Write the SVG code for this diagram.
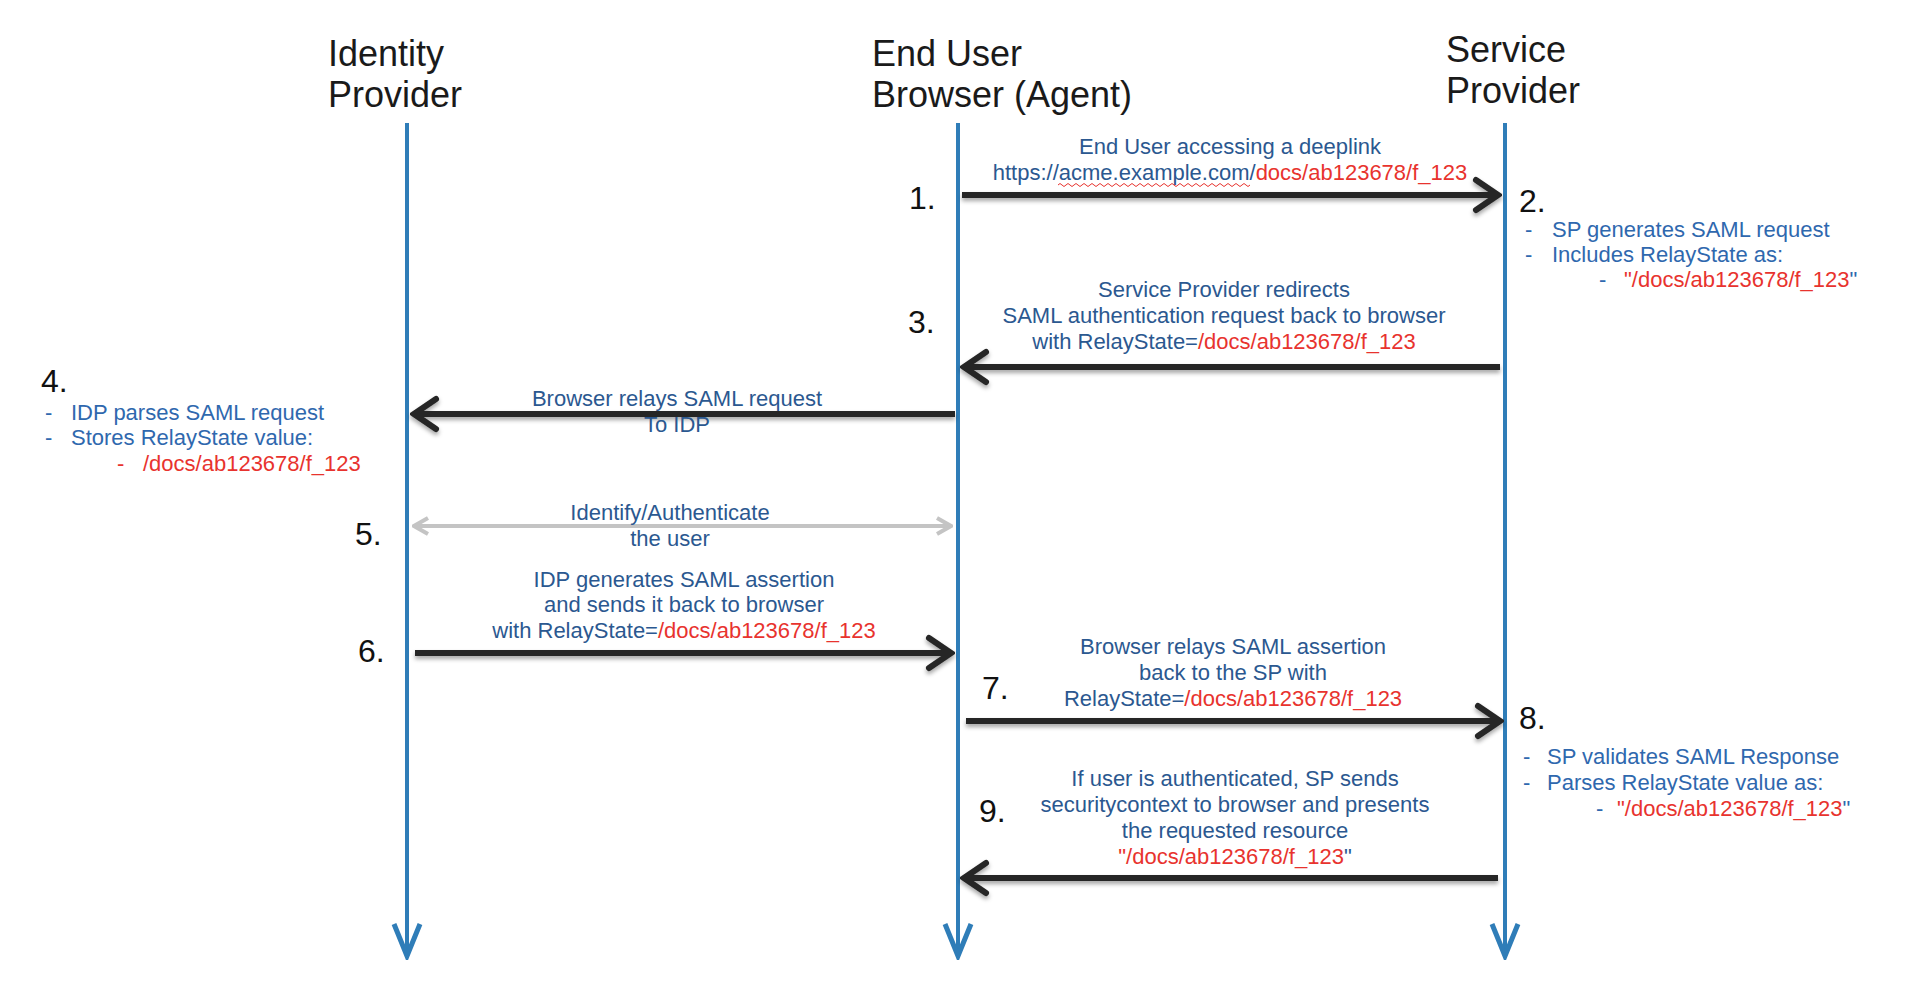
<svg xmlns="http://www.w3.org/2000/svg" width="1932" height="984" viewBox="0 0 1932 984">
<defs>
<style>
.hdr{font-family:"Liberation Sans",Arial,sans-serif;font-size:36px;fill:#1a1a1a}
.num{font-family:"Liberation Sans",Arial,sans-serif;font-size:32px;fill:#111}
.lbl{font-family:"Liberation Sans",Arial,sans-serif;font-size:22px;fill:#2B5890;text-anchor:middle}
.note{font-family:"Liberation Sans",Arial,sans-serif;font-size:22px;fill:#2F68AE}
.red{fill:#E8332E}
.life{stroke:#2F7DB8;stroke-width:4;fill:none}
.msg{stroke:#262626;stroke-width:6;fill:none}
.grey{stroke:#C4C4C4;stroke-width:4;fill:none}
</style>
<marker id="ah" markerUnits="userSpaceOnUse" viewBox="-30 -20 34 40" refX="0" refY="0" markerWidth="34" markerHeight="40" orient="auto">
<path d="M-22,-15 L0,0 L-22,15" fill="none" stroke="#262626" stroke-width="6" stroke-linecap="round"/>
</marker>
<marker id="lh" markerUnits="userSpaceOnUse" viewBox="-36 -20 40 40" refX="0" refY="0" markerWidth="40" markerHeight="40" orient="auto">
<path d="M-32,-13 L0,0 L-32,13" fill="none" stroke="#2F7DB8" stroke-width="5"/>
</marker>
<marker id="gh" markerUnits="userSpaceOnUse" viewBox="-20 -12 22 24" refX="0" refY="0" markerWidth="22" markerHeight="24" orient="auto-start-reverse">
<path d="M-14,-8 L0,0 L-14,8" fill="none" stroke="#C4C4C4" stroke-width="4"/>
</marker>
<filter id="sh" x="-5%" y="-100%" width="110%" height="300%">
<feDropShadow dx="0" dy="3" stdDeviation="2" flood-color="#000" flood-opacity="0.35"/>
</filter>
</defs>
<rect width="1932" height="984" fill="#fff"/>

<g id="idp">
<text class="hdr" x="328" y="66">Identity</text>
<text class="hdr" x="328" y="107">Provider</text>
<line class="life" x1="407" y1="123" x2="407" y2="956" marker-end="url(#lh)"/>
</g>
<g id="browser">
<text class="hdr" x="872" y="66">End User</text>
<text class="hdr" x="872" y="107">Browser (Agent)</text>
<line class="life" x1="958" y1="123" x2="958" y2="956" marker-end="url(#lh)"/>
</g>
<g id="sp">
<text class="hdr" x="1446" y="62">Service</text>
<text class="hdr" x="1446" y="103">Provider</text>
<line class="life" x1="1505" y1="123" x2="1505" y2="956" marker-end="url(#lh)"/>
</g>

<g id="connectors">
<g filter="url(#sh)">
<line class="msg" x1="962" y1="195" x2="1498" y2="195" marker-end="url(#ah)"/>
<line class="msg" x1="1500" y1="367" x2="964" y2="367" marker-end="url(#ah)"/>
<line class="msg" x1="955" y1="414" x2="414" y2="414" marker-end="url(#ah)"/>
<line class="msg" x1="415" y1="653" x2="951" y2="653" marker-end="url(#ah)"/>
<line class="msg" x1="966" y1="721" x2="1500" y2="721" marker-end="url(#ah)"/>
<line class="msg" x1="1498" y1="878" x2="964" y2="878" marker-end="url(#ah)"/>
</g>
<line class="grey" x1="414" y1="526" x2="951" y2="526" marker-start="url(#gh)" marker-end="url(#gh)"/>
</g>

<g id="step1">
<text class="num" x="909" y="209">1.</text>
<text class="lbl" x="1230" y="154">End User accessing a deeplink</text>
<text class="lbl" x="1230" y="180">https://acme.example.com/<tspan class="red">docs/ab123678/f_123</tspan></text>
<path d="M1058,185 q2,-3 4,0 t4,0 t4,0 t4,0 t4,0 t4,0 t4,0 t4,0 t4,0 t4,0 t4,0 t4,0 t4,0 t4,0 t4,0 t4,0 t4,0 t4,0 t4,0 t4,0 t4,0 t4,0 t4,0 t4,0 t4,0 t4,0 t4,0 t4,0 t4,0 t4,0 t4,0 t4,0 t4,0 t4,0 t4,0 t4,0 t4,0 t4,0 t4,0 t4,0 t4,0 t4,0 t4,0 t4,0 t4,0 t4,0 t4,0 t4,0" fill="none" stroke="#E8332E" stroke-width="1"/>
</g>
<g id="step2">
<text class="num" x="1519" y="212">2.</text>
<text class="note" x="1525" y="237">-</text>
<text class="note" x="1552" y="237">SP generates SAML request</text>
<text class="note" x="1525" y="262">-</text>
<text class="note" x="1552" y="262">Includes RelayState as:</text>
<text class="note" x="1599" y="287">-</text>
<text class="note" x="1624" y="287"><tspan class="red">"/docs/ab123678/f_123</tspan>"</text>
</g>
<g id="step3">
<text class="num" x="908" y="333">3.</text>
<text class="lbl" x="1224" y="297">Service Provider redirects</text>
<text class="lbl" x="1224" y="323">SAML authentication request back to browser</text>
<text class="lbl" x="1224" y="349">with RelayState=<tspan class="red">/docs/ab123678/f_123</tspan></text>
</g>
<g id="step4">
<text class="num" x="41" y="392">4.</text>
<text class="note" x="45" y="420">-</text>
<text class="note" x="71" y="420">IDP parses SAML request</text>
<text class="note" x="45" y="445">-</text>
<text class="note" x="71" y="445">Stores RelayState value:</text>
<text class="note red" x="117" y="471">-</text>
<text class="note red" x="143" y="471">/docs/ab123678/f_123</text>
<text class="lbl" x="677" y="406">Browser relays SAML request</text>
<text class="lbl" x="677" y="432">To IDP</text>
</g>
<g id="step5">
<text class="num" x="355" y="545">5.</text>
<text class="lbl" x="670" y="520">Identify/Authenticate</text>
<text class="lbl" x="670" y="546">the user</text>
</g>
<g id="step6">
<text class="num" x="358" y="662">6.</text>
<text class="lbl" x="684" y="587">IDP generates SAML assertion</text>
<text class="lbl" x="684" y="612">and sends it back to browser</text>
<text class="lbl" x="684" y="638">with RelayState=<tspan class="red">/docs/ab123678/f_123</tspan></text>
</g>
<g id="step7">
<text class="num" x="982" y="699">7.</text>
<text class="lbl" x="1233" y="654">Browser relays SAML assertion</text>
<text class="lbl" x="1233" y="680">back to the SP with</text>
<text class="lbl" x="1233" y="706">RelayState=<tspan class="red">/docs/ab123678/f_123</tspan></text>
</g>
<g id="step8">
<text class="num" x="1519" y="729">8.</text>
<text class="note" x="1523" y="764">-</text>
<text class="note" x="1547" y="764">SP validates SAML Response</text>
<text class="note" x="1523" y="790">-</text>
<text class="note" x="1547" y="790">Parses RelayState value as:</text>
<text class="note" x="1596" y="816">-</text>
<text class="note" x="1617" y="816"><tspan class="red">"/docs/ab123678/f_123</tspan>"</text>
</g>
<g id="step9">
<text class="num" x="979" y="822">9.</text>
<text class="lbl" x="1235" y="786">If user is authenticated, SP sends</text>
<text class="lbl" x="1235" y="812">securitycontext to browser and presents</text>
<text class="lbl" x="1235" y="838">the requested resource</text>
<text class="lbl" x="1235" y="864"><tspan class="red">"/docs/ab123678/f_123</tspan>"</text>
</g>
</svg>
